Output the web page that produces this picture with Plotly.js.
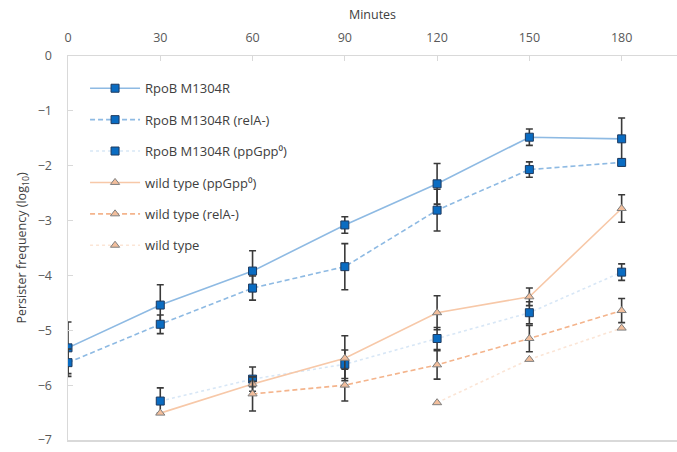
<!DOCTYPE html>
<html>
<head>
<meta charset="utf-8">
<script src="https://cdn.plot.ly/plotly-3.0.1.min.js"></script>
<style>html,body{margin:0;padding:0;background:#fff;}#chart{width:677px;height:452px;}</style>
</head>
<body>
<div id="chart"></div>
<script>
// Data (minutes vs log10 persister frequency)
const minutes = [0, 30, 60, 90, 120, 150, 180];
const tickLabels = ['0', '30', '60', '90', '120', '150', '180'];
const seriesNames = ['RpoB M1304R', 'RpoB M1304R (relA-)', 'RpoB M1304R (ppGpp\u2070)',
                     'wild type (ppGpp\u2070)', 'wild type (relA-)', 'wild type'];

const rpoB        = [-5.32, -4.54, -3.92, -3.08, -2.33, -1.48, -1.51];
const rpoBErr     = [0.47, 0.37, 0.37, 0.15, 0.37, 0.15, 0.38];
const rpoBRelA    = [-5.59, -4.89, -4.23, -3.84, -2.81, -2.07, -1.94];
const rpoBRelAErr = [0.25, 0.17, 0.22, 0.42, 0.38, 0.14, 0.06];
const rpoBPpGpp    = [null, -6.29, -5.89, -5.62, -5.15, -4.68, -3.94];
const rpoBPpGppErr = [0, 0.24, 0.22, 0.26, 0.20, 0.20, 0.15];
const wtPpGpp     = [null, -6.51, -5.98, -5.51, -4.68, -4.39, -2.78];
const wtPpGppErr  = [0, 0, 0.05, 0.41, 0.31, 0.16, 0.25];
const wtRelA      = [null, null, -6.16, -6.00, -5.63, -5.15, -4.64];
const wtRelAErr   = [0, 0, 0.31, 0.29, 0.26, 0.24, 0.22];
const wt          = [null, null, null, null, -6.32, -5.53, -4.96];

const sqMarker = {symbol: 'square', size: 8, color: '#0A6CC2', line: {color: '#1E3A5F', width: 1}};
const triMarker = {symbol: 'triangle-up', size: 8, color: '#F2BE9C', line: {color: '#7F7F7F', width: 1}};
function err(arr) {
  return {type: 'data', array: arr, visible: true, color: '#3A3A3A', thickness: 1.6, width: 3.5};
}

const traces = [
  {y: rpoB, err: rpoBErr, name: seriesNames[0], line: {color: '#8EBAE3', width: 1.6}, marker: sqMarker},
  {y: rpoBRelA, err: rpoBRelAErr, name: seriesNames[1], line: {color: '#8EBAE3', width: 1.6, dash: '5px,3px'}, marker: sqMarker},
  {y: rpoBPpGpp, err: rpoBPpGppErr, name: seriesNames[2], line: {color: '#D8E7F6', width: 1.6, dash: 'dot'}, marker: sqMarker},
  {y: wtPpGpp, err: wtPpGppErr, name: seriesNames[3], line: {color: '#F7C8A8', width: 1.6}, marker: triMarker},
  {y: wtRelA, err: wtRelAErr, name: seriesNames[4], line: {color: '#F4B48C', width: 1.6, dash: '5px,3px'}, marker: triMarker},
  {y: wt, err: null, name: seriesNames[5], line: {color: '#FBE5D6', width: 1.6, dash: 'dot'}, marker: triMarker}
].map((t, i) => {
  const tr = {
    type: 'scatter', mode: 'lines+markers', x: minutes, y: t.y, name: t.name,
    line: t.line, marker: t.marker, connectgaps: false,
    legendgroup: 'g' + i
  };
  if (t.err) tr.error_y = err(t.err);
  return tr;
});

const axisFont = {family: 'Open Sans, Noto Sans, sans-serif', size: 12.5, color: '#595959'};

const layout = {
  width: 677, height: 452,
  margin: {l: 68, r: 0, t: 56, b: 12},
  paper_bgcolor: '#ffffff', plot_bgcolor: '#ffffff',
  showlegend: true,
  legend: {
    x: 0.028, y: 0.955, xanchor: 'left', yanchor: 'top',
    bgcolor: 'rgba(255,255,255,0)', borderwidth: 0,
    font: {family: 'Open Sans, Noto Sans, sans-serif', size: 13, color: '#404040'},
    tracegroupgap: 11.5, itemwidth: 50
  },
  xaxis: {
    side: 'top', range: [0, 198],
    tickmode: 'array', tickvals: minutes, ticktext: tickLabels,
    showgrid: false, zeroline: false,
    showline: true, linecolor: '#D9D9D9', linewidth: 1.5, mirror: true,
    ticks: 'inside', ticklen: 5, tickcolor: '#D9D9D9',
    tickfont: axisFont, ticklabelstandoff: 8,
    title: {text: 'Minutes', font: {family: 'Open Sans, Noto Sans, sans-serif', size: 12.5, color: '#404040'}, standoff: 6}
  },
  yaxis: {
    range: [-7, 0], dtick: 1, tick0: 0,
    showgrid: false, zeroline: false,
    showline: true, linecolor: '#D9D9D9', linewidth: 1.5,
    ticks: 'inside', ticklen: 5, tickcolor: '#D9D9D9',
    tickfont: axisFont, ticklabelstandoff: 12,
    title: {text: 'Persister frequency (log<sub>10</sub>)', font: {family: 'Open Sans, Noto Sans, sans-serif', size: 12.5, color: '#404040'}, standoff: 8}
  }
};

Plotly.newPlot('chart', traces, layout, {displayModeBar: false, staticPlot: true});
</script>
</body>
</html>
